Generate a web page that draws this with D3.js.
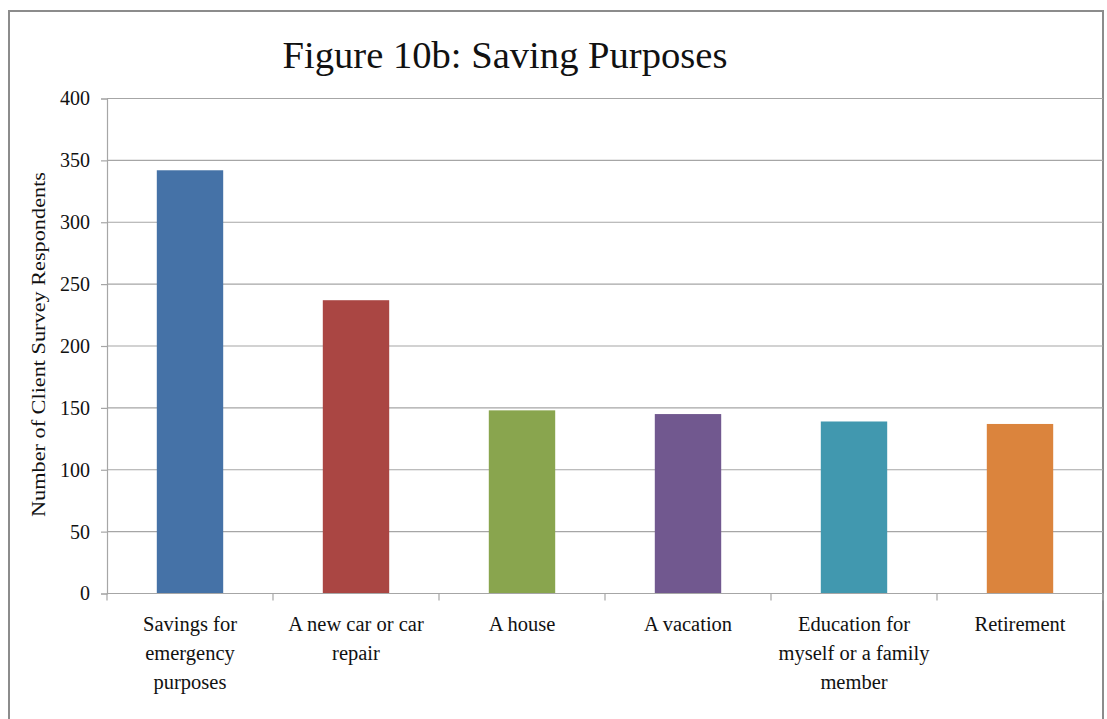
<!DOCTYPE html>
<html>
<head>
<meta charset="utf-8">
<script src="https://cdn.jsdelivr.net/npm/d3@7"></script>
<style>
  html, body { margin: 0; padding: 0; background: #fff; }
  svg { display: block; }
</style>
</head>
<body>
<svg id="chart" width="1107" height="719"></svg>
<script>
// Saving purposes reported by client survey respondents
const categories = [
  ["Savings for", "emergency", "purposes"],
  ["A new car or car", "repair"],
  ["A house"],
  ["A vacation"],
  ["Education for", "myself or a family", "member"],
  ["Retirement"]
];
const values = [342, 237, 148, 145, 139, 137];
const colors = ["#4572A7", "#AA4643", "#89A54E", "#71588F", "#4198AF", "#DB843D"];
const yTicks = [0, 50, 100, 150, 200, 250, 300, 350, 400];
const titleText = "Figure 10b: Saving Purposes";
const yTitle = "Number of Client Survey Respondents";

const W = 1107, H = 719;
const serif = "'Liberation Serif', 'Times New Roman', serif";
const plot = { left: 107, right: 1103, top: 98.5, bottom: 593.5 };

const svg = d3.select("#chart");

// chart frame
svg.append("rect")
  .attr("x", 9).attr("y", 11)
  .attr("width", 1094).attr("height", 740)
  .attr("fill", "#fff")
  .attr("stroke", "#8c8c8c").attr("stroke-width", 2);

const keys = d3.range(categories.length);
const x = d3.scaleBand().domain(keys).range([plot.left, plot.right]).paddingInner(0.6).paddingOuter(0.3);
const xEdges = d3.scaleBand().domain(keys).range([plot.left, plot.right]);
const y = d3.scaleLinear().domain([0, 400]).range([plot.bottom, plot.top]);

// horizontal gridlines
svg.append("g").selectAll("line")
  .data(yTicks.filter(d => d > 0))
  .join("line")
  .attr("x1", plot.left).attr("x2", plot.right)
  .attr("y1", d => y(d)).attr("y2", d => y(d))
  .attr("stroke", "#a6a6a6").attr("stroke-width", 1.2);

// bars
svg.append("g").selectAll("rect")
  .data(values)
  .join("rect")
  .attr("x", (d, i) => x(i))
  .attr("y", d => y(d))
  .attr("width", x.bandwidth())
  .attr("height", d => y(0) - y(d))
  .attr("fill", (d, i) => colors[i]);

// y axis
const yAxis = svg.append("g")
  .attr("transform", `translate(${plot.left},0)`)
  .call(d3.axisLeft(y).tickValues(yTicks).tickSize(6).tickPadding(11));
yAxis.select(".domain").attr("stroke", "#a6a6a6").attr("stroke-width", 1.2);
yAxis.selectAll(".tick line").attr("stroke", "#a6a6a6").attr("stroke-width", 1.2);
yAxis.selectAll(".tick text")
  .attr("font-family", serif).attr("font-size", 20).attr("fill", "#111");

// x axis baseline and category separators
const xg = svg.append("g");
xg.append("line")
  .attr("x1", plot.left).attr("x2", plot.right)
  .attr("y1", y(0)).attr("y2", y(0))
  .attr("stroke", "#a6a6a6").attr("stroke-width", 1.2);
const edges = keys.map(i => xEdges(i)).concat([plot.right]);
xg.selectAll("line.sep")
  .data(edges)
  .join("line").attr("class", "sep")
  .attr("x1", d => d).attr("x2", d => d)
  .attr("y1", y(0)).attr("y2", y(0) + 7)
  .attr("stroke", "#a6a6a6").attr("stroke-width", 1.2);

// category labels
const lbl = svg.append("g").selectAll("text")
  .data(categories)
  .join("text")
  .attr("x", (d, i) => xEdges(i) + xEdges.bandwidth() / 2)
  .attr("y", 631)
  .attr("text-anchor", "middle")
  .attr("font-family", serif).attr("font-size", 20.5).attr("fill", "#111");
lbl.selectAll("tspan")
  .data(d => d)
  .join("tspan")
  .attr("x", function () { return this.parentNode.getAttribute("x"); })
  .attr("dy", (d, j) => j === 0 ? 0 : 29)
  .text(d => d);

// y axis title
svg.append("text")
  .attr("transform", "translate(45,344.5) rotate(-90)")
  .attr("text-anchor", "middle")
  .attr("font-family", serif).attr("font-size", 19.5).attr("fill", "#111")
  .attr("textLength", 345).attr("lengthAdjust", "spacingAndGlyphs")
  .text(yTitle);

// chart title
svg.append("text")
  .attr("x", 505).attr("y", 68)
  .attr("text-anchor", "middle")
  .attr("font-family", serif).attr("font-size", 38).attr("fill", "#111")
  .attr("textLength", 445).attr("lengthAdjust", "spacingAndGlyphs")
  .text(titleText);
</script>
</body>
</html>
